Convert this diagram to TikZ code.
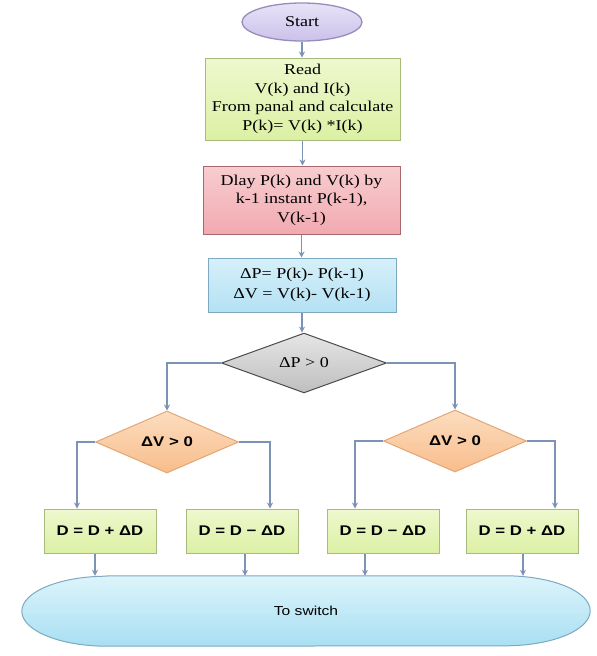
\documentclass[tikz,border=0pt]{standalone}
\usepackage{fontspec}
\setmainfont{Liberation Serif}[FakeStretch=1.2]
\setsansfont{Liberation Sans}[FakeStretch=1.2]
\usetikzlibrary{arrows.meta, positioning, shapes.geometric, backgrounds}

\definecolor{linkc}{HTML}{7C93B6}
\definecolor{startb}{HTML}{968DBD}
\definecolor{startt}{HTML}{E8E3F7}
\definecolor{startf}{HTML}{CBC1EA}
\definecolor{greenb}{HTML}{A9BB7C}
\definecolor{greent}{HTML}{EEF8CE}
\definecolor{greenf}{HTML}{DCF0A4}
\definecolor{redb}{HTML}{A7686D}
\definecolor{redt}{HTML}{F8CDD0}
\definecolor{redf}{HTML}{F1AAB0}
\definecolor{blueb}{HTML}{7DA9C2}
\definecolor{bluet}{HTML}{D6F0FA}
\definecolor{bluef}{HTML}{B4E1F3}
\definecolor{grayt}{HTML}{E6E6E6}
\definecolor{grayf}{HTML}{BEBEBE}
\definecolor{orangeb}{HTML}{E3A676}
\definecolor{oranget}{HTML}{FCDDBF}
\definecolor{orangef}{HTML}{F8BD8C}
\definecolor{swt}{HTML}{DDF4FB}
\definecolor{swf}{HTML}{A8DFF2}

\begin{document}
\begin{tikzpicture}[
  x=1pt, y=1pt,
  box/.style={draw, rectangle, align=center, line width=1pt, inner sep=2pt,
    font=\fontsize{15}{18.5}\selectfont},
  greenbox/.style={box, draw=greenb, top color=greent, bottom color=greenf},
  dbox/.style={greenbox, minimum width=112, minimum height=44,
    font=\sffamily\bfseries\fontsize{14}{16}\selectfont},
  test/.style={draw, diamond, inner sep=0pt, line width=1pt},
  vtest/.style={test, draw=orangeb, top color=oranget, bottom color=orangef,
    minimum width=143, minimum height=62, font=\sffamily\bfseries\fontsize{14}{16}\selectfont},
  arrow/.style={-{Stealth[length=6pt,width=6pt]}, draw=linkc, line width=1.3pt}
]
\useasboundingbox (0,0) rectangle (597,-656);

% main column
\node[draw=startb, ellipse, line width=1.3pt, top color=startt, bottom color=startf,
  minimum width=120, minimum height=38, font=\fontsize{15}{18}\selectfont] (start) at (302,-22) {Start};
\node[greenbox, minimum width=195, minimum height=82] (read) at (302.5,-99)
  {Read\\V(k) and I(k)\\From panal and calculate\\P(k)= V(k) *I(k)};
\node[box, draw=redb, top color=redt, bottom color=redf,
  minimum width=197, minimum height=68] (delay) at (301.5,-200)
  {Dlay P(k) and V(k) by\\k-1 instant P(k-1),\\V(k-1)};
\node[box, draw=blueb, top color=bluet, bottom color=bluef,
  minimum width=188, minimum height=54, font=\fontsize{15}{20}\selectfont] (diff) at (302,-285)
  {ΔP= P(k)- P(k-1)\\ΔV = V(k)- V(k-1)};
\node[test, draw=black!70, top color=grayt, bottom color=grayf,
  minimum width=165, minimum height=50, font=\fontsize{15}{18}\selectfont] (dp) at (304,-363) {ΔP > 0};

% branches
\node[vtest] (dvl) at (167,-442) {ΔV > 0};
\node[vtest] (dvr) at (455,-441) {ΔV > 0};
\node[dbox] (d1) at (100,-531) {D = D + ΔD};
\node[dbox] (d2) at (242,-531) {D = D − ΔD};
\node[dbox] (d3) at (383,-531) {D = D − ΔD};
\node[dbox] (d4) at (522,-531) {D = D + ΔD};

% output
\node[minimum width=568, minimum height=70, font=\sffamily\fontsize{13}{15}\selectfont] (sw) at (306,-611) {To switch};
\begin{scope}[on background layer]
\draw[draw=blueb, line width=1pt, top color=swt, bottom color=swf]
  ([xshift=85pt]sw.north west) -- ([xshift=-85pt]sw.north east)
  arc[start angle=90, end angle=-90, x radius=85pt, y radius=35pt]
  -- ([xshift=85pt]sw.south west)
  arc[start angle=270, end angle=90, x radius=85pt, y radius=35pt] -- cycle;
\end{scope}

\draw[arrow] (start.south) -- (start.south |- read.north);
\draw[arrow] (read.south) -- (read.south |- delay.north);
\draw[arrow] (delay.south) -- (delay.south |- diff.north);
\draw[arrow] (diff.south) -- (diff.south |- dp.north);
\draw[arrow] (dp.west) -| (dvl.north);
\draw[arrow] (dp.east) -| (dvr.north);
\draw[arrow] (dvl.west) -| ([xshift=-23pt]d1.north);
\draw[arrow] (dvl.east) -| ([xshift=28pt]d2.north);
\draw[arrow] (dvr.west) -| ([xshift=-28pt]d3.north);
\draw[arrow] (dvr.east) -| ([xshift=33pt]d4.north);
\foreach \b/\s in {d1/-5, d2/3, d3/-18, d4/1} {
  \coordinate (o\b) at ([xshift=\s pt]\b.south);
  \draw[arrow] (o\b) -- (o\b |- sw.north);
}
\end{tikzpicture}
\end{document}
